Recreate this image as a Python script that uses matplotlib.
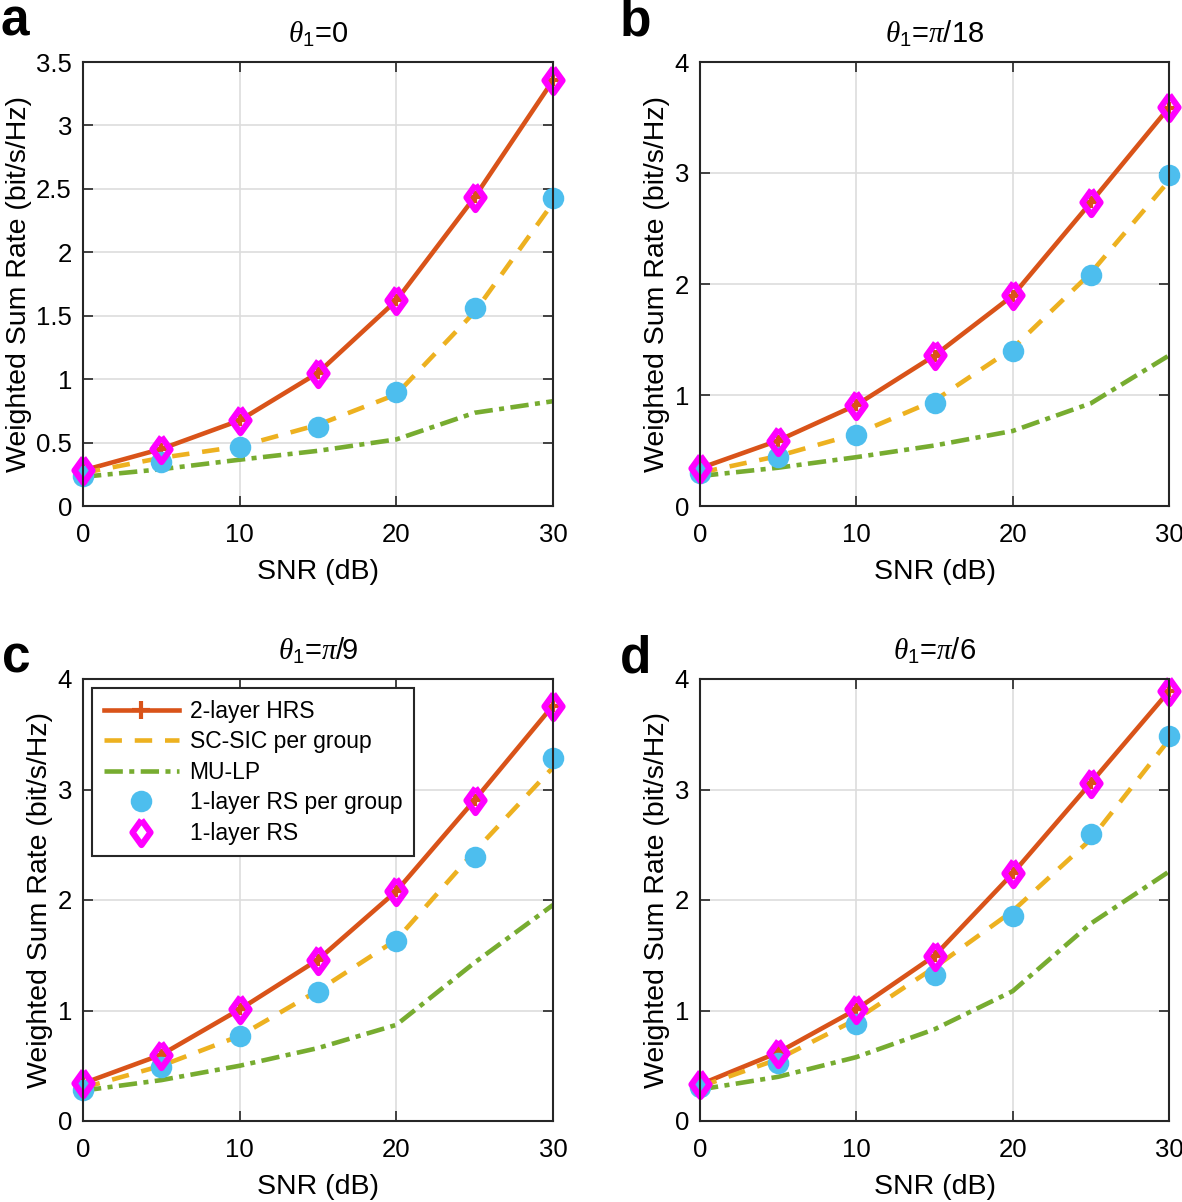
import matplotlib
matplotlib.use("Agg")
import matplotlib.pyplot as plt
from matplotlib.ticker import MultipleLocator

plt.rcParams['font.family'] = ['Liberation Sans', 'DejaVu Sans']
plt.rcParams['mathtext.fontset'] = 'custom'
plt.rcParams['mathtext.rm'] = 'Liberation Sans'
plt.rcParams['mathtext.it'] = 'Liberation Serif:italic'

snr = [0, 5, 10, 15, 20, 25, 30]

titles = [r'$\theta_1$=0', r'$\theta_1$=$\pi$/18', r'$\theta_1$=$\pi$/9', r'$\theta_1$=$\pi$/6']
letters = ['a', 'b', 'c', 'd']
ymax = [3.5, 4, 4, 4]
ystep = [0.5, 1, 1, 1]

# one row per panel (a, b, c, d)
hrs = [
    [0.28, 0.45, 0.675, 1.05, 1.62, 2.435, 3.355],
    [0.34, 0.59, 0.91, 1.355, 1.895, 2.735, 3.59],
    [0.34, 0.60, 1.01, 1.46, 2.08, 2.905, 3.76],
    [0.33, 0.62, 1.01, 1.495, 2.24, 3.06, 3.89],
]
scsic = [
    [0.26, 0.38, 0.47, 0.64, 0.88, 1.53, 2.39],
    [0.30, 0.45, 0.65, 0.95, 1.42, 2.10, 2.93],
    [0.30, 0.50, 0.77, 1.18, 1.64, 2.44, 3.20],
    [0.31, 0.56, 0.92, 1.39, 1.90, 2.55, 3.45],
]
mulp = [
    [0.23, 0.29, 0.365, 0.435, 0.525, 0.735, 0.826],
    [0.27, 0.345, 0.44, 0.545, 0.676, 0.925, 1.356],
    [0.275, 0.37, 0.50, 0.66, 0.87, 1.434, 1.955],
    [0.285, 0.40, 0.578, 0.83, 1.175, 1.787, 2.257],
]
rs_group = [
    [0.236, 0.35, 0.463, 0.626, 0.898, 1.56, 2.43],
    [0.297, 0.44, 0.638, 0.93, 1.398, 2.08, 2.98],
    [0.285, 0.487, 0.769, 1.165, 1.629, 2.39, 3.288],
    [0.309, 0.527, 0.88, 1.317, 1.854, 2.596, 3.483],
]
rs_one = [
    [0.284, 0.45, 0.675, 1.05, 1.62, 2.435, 3.355],
    [0.338, 0.59, 0.908, 1.356, 1.898, 2.737, 3.593],
    [0.343, 0.60, 1.014, 1.458, 2.079, 2.905, 3.758],
    [0.333, 0.618, 1.014, 1.495, 2.24, 3.063, 3.893],
]

red = '#D95319'
yellow = '#EDB120'
green = '#77AC30'
blue = '#4DBEEE'
magenta = '#FF00FF'

diamond = [(0, 1), (0.72, 0), (0, -1), (-0.72, 0), (0, 1)]

W, H = 1182, 1202
fig = plt.figure(figsize=(W / 100, H / 100), dpi=100)

# axes boxes in pixels: left, top, right, bottom
boxes = [(83, 62, 553, 506), (700, 62, 1169, 506),
         (83, 679, 553, 1121), (700, 679, 1169, 1121)]
letter_pos = [(0, 36), (620, 36), (2, 673), (620, 673)]

for i in range(4):
    l, t, r, b = boxes[i]
    ax = fig.add_axes([l / W, 1 - b / H, (r - l) / W, (b - t) / H])

    ax.plot(snr, hrs[i], color=red, lw=3.3, marker='+', ms=9, mew=3,
            label='2-layer HRS', clip_on=False)
    ax.plot(snr, scsic[i], color=yellow, lw=3.3, dashes=(3.8, 2.8),
            label='SC-SIC per group')
    ax.plot(snr, mulp[i], color=green, lw=3.3, dashes=(4, 1.4, 1.1, 1.4),
            label='MU-LP')
    ax.plot(snr, rs_group[i], ls='none', marker='o', ms=14, mfc=blue,
            mec=blue, mew=1.5, label='1-layer RS per group', clip_on=False)
    ax.plot(snr, rs_one[i], ls='none', marker=diamond, ms=18, mfc='none',
            mec=magenta, mew=4.5, label='1-layer RS', clip_on=False)

    ax.set_xlim(0, 30)
    ax.set_ylim(0, ymax[i])
    ax.xaxis.set_major_locator(MultipleLocator(10))
    ax.yaxis.set_major_locator(MultipleLocator(ystep[i]))
    ax.yaxis.set_major_formatter(plt.FuncFormatter(lambda v, p: f'{v:g}'))
    ax.grid(True, color='#dddddd', lw=1.2)
    ax.set_axisbelow(True)
    ax.tick_params(direction='in', top=True, right=True, length=7,
                   width=1.2, labelsize=18.5, color='#262626')
    ax.tick_params(axis='x', pad=12)
    ax.tick_params(axis='y', pad=8)
    for s in ax.spines.values():
        s.set_linewidth(1.5)
        s.set_color('#262626')
        s.set_zorder(5)

    ax.set_xlabel('SNR (dB)', fontsize=20.5, labelpad=9)
    ax.set_ylabel('Weighted Sum Rate (bit/s/Hz)', fontsize=20.5, labelpad=3)
    ax.set_title(titles[i], fontsize=21, pad=14)

    fig.text(letter_pos[i][0] / W, 1 - letter_pos[i][1] / H, letters[i],
             fontsize=37, fontweight='bold', ha='left', va='baseline')

    if i == 2:
        leg = ax.legend(loc='upper left', fontsize=16.5, handlelength=3.3,
                        handletextpad=0.45, fancybox=False, framealpha=1,
                        edgecolor='#262626', borderaxespad=0.4,
                        labelspacing=0.33, borderpad=0.5)
        leg.get_frame().set_linewidth(1.5)
        leg.legend_handles[0].set_markersize(13)

fig.savefig('out.png', dpi=100)
